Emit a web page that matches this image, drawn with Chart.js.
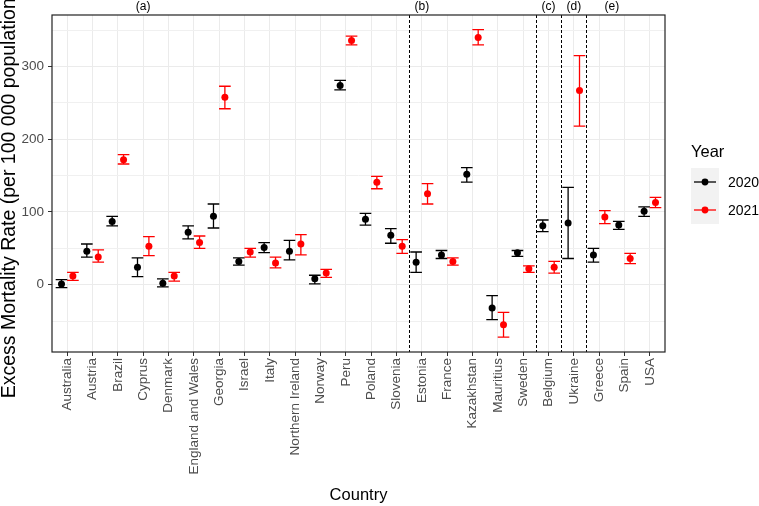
<!DOCTYPE html>
<html>
<head>
<meta charset="utf-8">
<script src="https://cdn.jsdelivr.net/npm/chart.js@4.4.1/dist/chart.umd.min.js"></script>
<style>
  html, body { margin: 0; padding: 0; background: #fff; }
  #wrap { width: 759px; height: 506px; }
</style>
</head>
<body>
<div id="wrap"><canvas id="graph" width="759" height="506"></canvas></div>
<script>
const countries = ["Australia", "Austria", "Brazil", "Cyprus", "Denmark", "England and Wales",
  "Georgia", "Israel", "Italy", "Northern Ireland", "Norway", "Peru", "Poland", "Slovenia",
  "Estonia", "France", "Kazakhstan", "Mauritius", "Sweden", "Belgium", "Ukraine",
  "Greece", "Spain", "USA"];

const rate2020 = [1, 46, 87, 24, 2, 72, 94, 32, 51, 46, 8, 274, 90, 68, 31, 41, 152, -32, 44, 81, 85, 41, 82, 101];
const low2020  = [-4, 38, 81, 11, -3, 63, 78, 27, 44, 34, 1, 268, 82, 57, 17, 36, 141, -48, 39, 73, 36, 31, 76, 94];
const high2020 = [7, 56, 94, 37, 8, 81, 111, 37, 58, 61, 13, 281, 98, 77, 45, 47, 161, -15, 47, 89, 134, 50, 87, 107];

const rate2021 = [12, 38, 172, 53, 12, 58, 258, 45, 30, 56, 16, 336, 141, 53, 125, 32, 340, -55, 22, 24, 267, 93, 36, 113];
const low2021  = [6, 31, 166, 40, 5, 50, 242, 38, 23, 41, 10, 330, 132, 43, 111, 27, 330, -72, 17, 16, 218, 84, 29, 106];
const high2021 = [17, 48, 179, 66, 17, 67, 273, 50, 38, 69, 21, 342, 149, 62, 139, 37, 351, -38, 26, 32, 315, 102, 43, 120];

const yTicks = [-50, 0, 50, 100, 150, 200, 250, 300, 350];
const yLabels = [0, 100, 200, 300];

// panel groups: label, category it sits over; dashed separators between categories
const groupNames = ["(a)", "(b)", "(c)", "(d)", "(e)"];
const groupAt = [3, 14, 19, 20, 21.5];
const groupBreaks = [13.5, 18.5, 19.5, 20.5];

const FONT = "'Liberation Sans', Arial, sans-serif";
const DODGE = 0.225;

function points(values, shift) {
  return values.map((v, i) => ({ x: i + shift, y: v }));
}

const errorBars = {
  id: 'errorBars',
  beforeDatasetsDraw(chart) {
    const ctx = chart.ctx;
    const xs = chart.scales.x, ys = chart.scales.y;
    const capHalf = xs.getPixelForValue(0.23) - xs.getPixelForValue(0);
    ctx.save();
    chart.data.datasets.forEach(ds => {
      ctx.strokeStyle = ds.backgroundColor;
      ctx.lineWidth = 1.3;
      ds.data.forEach((p, i) => {
        const x = xs.getPixelForValue(p.x);
        const top = ys.getPixelForValue(ds.errHigh[i]);
        const bot = ys.getPixelForValue(ds.errLow[i]);
        ctx.beginPath();
        ctx.moveTo(x, top); ctx.lineTo(x, bot);
        ctx.moveTo(x - capHalf, top); ctx.lineTo(x + capHalf, top);
        ctx.moveTo(x - capHalf, bot); ctx.lineTo(x + capHalf, bot);
        ctx.stroke();
      });
    });
    ctx.restore();
  }
};

const decorations = {
  id: 'decorations',
  afterDraw(chart) {
    const ctx = chart.ctx;
    const a = chart.chartArea;
    const xs = chart.scales.x;
    ctx.save();

    // dashed separators
    ctx.strokeStyle = '#000';
    ctx.lineWidth = 1;
    ctx.setLineDash([3, 2]);
    groupBreaks.forEach(b => {
      const x = Math.round(xs.getPixelForValue(b)) + 0.5;
      ctx.beginPath();
      ctx.moveTo(x, a.top); ctx.lineTo(x, a.bottom);
      ctx.stroke();
    });
    ctx.setLineDash([]);

    // panel border
    ctx.strokeStyle = '#222';
    ctx.lineWidth = 1.2;
    ctx.strokeRect(a.left, a.top, a.right - a.left, a.bottom - a.top);

    // group labels
    ctx.fillStyle = '#000';
    ctx.font = '12px ' + FONT;
    ctx.textAlign = 'center';
    ctx.textBaseline = 'middle';
    groupNames.forEach((g, i) => ctx.fillText(g, xs.getPixelForValue(groupAt[i]), 7));

    // axis titles
    ctx.font = '16.5px ' + FONT;
    ctx.fillText('Country', (a.left + a.right) / 2, 495);
    ctx.save();
    ctx.translate(10, 195);
    ctx.rotate(-Math.PI / 2);
    ctx.font = '19.5px ' + FONT;
    ctx.fillText('Excess Mortality Rate (per 100 000 population)', 0, 0);
    ctx.restore();

    // legend
    ctx.textAlign = 'left';
    ctx.font = '16.5px ' + FONT;
    ctx.fillText('Year', 691, 152);
    ctx.fillStyle = '#F2F2F2';
    ctx.fillRect(691, 168, 28, 56);
    chart.data.datasets.forEach((ds, i) => {
      const y = 182 + i * 28;
      ctx.strokeStyle = ds.backgroundColor;
      ctx.lineWidth = 1.3;
      ctx.beginPath();
      ctx.moveTo(694, y); ctx.lineTo(716, y);
      ctx.stroke();
      ctx.fillStyle = ds.backgroundColor;
      ctx.beginPath();
      ctx.arc(705, y, 3.4, 0, Math.PI * 2);
      ctx.fill();
      ctx.fillStyle = '#000';
      ctx.font = '14px ' + FONT;
      ctx.fillText(ds.label, 728, y + 1);
    });
    ctx.restore();
  }
};

const ctx = document.getElementById('graph').getContext('2d');
new Chart(ctx, {
  type: 'scatter',
  data: {
    datasets: [
      { label: '2020', data: points(rate2020, -DODGE), errLow: low2020, errHigh: high2020,
        backgroundColor: '#000000', borderWidth: 0, pointRadius: 3.5 },
      { label: '2021', data: points(rate2021, DODGE), errLow: low2021, errHigh: high2021,
        backgroundColor: '#FF0000', borderWidth: 0, pointRadius: 3.5 }
    ]
  },
  options: {
    responsive: false,
    animation: false,
    devicePixelRatio: 1,
    layout: { padding: { top: 15, right: 94, left: 0, bottom: 0 } },
    plugins: { legend: { display: false }, tooltip: { enabled: false } },
    scales: {
      x: {
        type: 'linear',
        min: -0.6,
        max: countries.length - 0.4,
        afterFit: s => { s.height = 154; },
        afterBuildTicks: s => { s.ticks = countries.map((c, i) => ({ value: i })); },
        border: { display: false },
        grid: { color: '#EBEBEB', lineWidth: 1, tickLength: 4, tickColor: '#333' },
        ticks: {
          autoSkip: false, minRotation: 90, maxRotation: 90, padding: 2,
          color: '#4D4D4D', font: { family: FONT, size: 13.5 },
          callback: v => countries[v]
        }
      },
      y: {
        min: -92.6,
        max: 371,
        afterFit: s => { s.width = 52; },
        afterBuildTicks: s => { s.ticks = yTicks.map(v => ({ value: v })); },
        border: { display: false },
        grid: {
          color: c => yLabels.includes(c.tick.value) ? '#EBEBEB' : '#F0F0F0',
          lineWidth: 1, tickLength: 4,
          tickColor: c => yLabels.includes(c.tick.value) ? '#333' : 'rgba(0,0,0,0)'
        },
        ticks: {
          padding: 4, color: '#4D4D4D', font: { family: FONT, size: 13.5 },
          callback: v => yLabels.includes(v) ? String(v) : ''
        }
      }
    }
  },
  plugins: [errorBars, decorations]
});
</script>
</body>
</html>
